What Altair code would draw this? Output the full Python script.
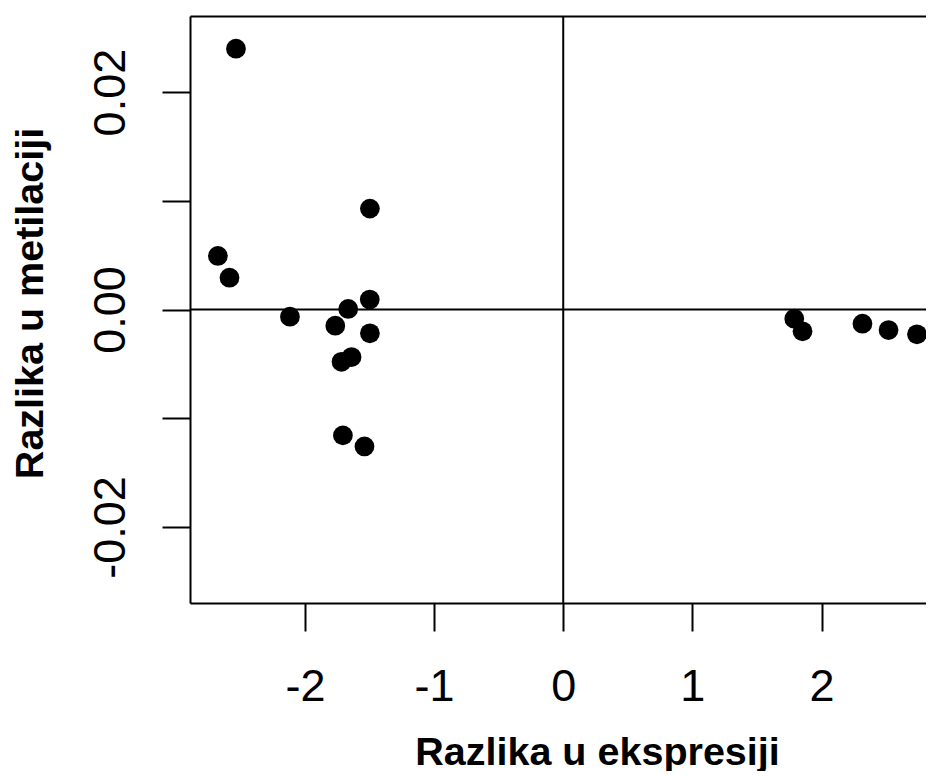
import altair as alt
import pandas as pd

# Data
x_vals = [-2.534, -1.497, -2.674, -2.584, -1.498, -1.665, -2.116, -1.765, -1.497,
          -1.639, -1.717, -1.706, -1.539, 1.789, 1.853, 2.317, 2.519, 2.739]
y_vals = [0.02399, 0.00928, 0.00493, 0.00293, 0.00092, 0.00005, -0.00066, -0.00149,
          -0.00219, -0.00437, -0.00481, -0.01158, -0.01260, -0.00085, -0.00201,
          -0.00131, -0.00189, -0.00228]
x_ticks = [-2, -1, 0, 1, 2]
y_ticks = [-0.02, -0.01, 0.0, 0.01, 0.02]
zero = [0]
x_title = "Razlika u ekspresiji"
y_title = "Razlika u metilaciji"
x_domain = [-2.89, 2.809]
y_domain = [-0.027, 0.027]

df = pd.DataFrame({"x": x_vals, "y": y_vals})
zdf = pd.DataFrame({"v": zero})

FONT = "Liberation Sans"
xs = alt.Scale(domain=x_domain, nice=False, zero=False)
ys = alt.Scale(domain=y_domain, nice=False, zero=False)

x_axis = alt.Axis(
    orient="bottom", values=x_ticks, grid=False,
    labelExpr="datum.value < 0 ? '-' + format(-datum.value, 'd') : format(datum.value, 'd')",
    tickSize=28, tickWidth=2, tickColor="black",
    domainColor="black", domainWidth=2,
    labelFont=FONT, labelFontSize=45, labelColor="black",
    labelPadding=69, labelBaseline="alphabetic", labelAlign="center",
    labelFlush=False, labelOverlap=False,
    title=x_title, titleFont=FONT, titleFontSize=39.5, titleFontWeight="bold",
    titleColor="black", titleX=407, titleY=161, titleBaseline="alphabetic",
    titleAlign="center",
)

y_axis = alt.Axis(
    orient="left", values=y_ticks, grid=False,
    labelExpr="round(abs(datum.value) * 100) % 2 == 0 ? (datum.value < 0 ? '-' + format(-datum.value, '.2f') : format(datum.value, '.2f')) : ''",
    tickSize=28, tickWidth=2, tickColor="black",
    domainColor="black", domainWidth=2,
    labelFont=FONT, labelFontSize=45, labelColor="black",
    labelAngle=270, labelAlign="center", labelBaseline="alphabetic",
    labelPadding=38, labelFlush=False, labelOverlap=False,
    title=y_title, titleFont=FONT, titleFontSize=39.5, titleFontWeight="bold",
    titleColor="black", titleAngle=270, titleAlign="center",
    titleBaseline="alphabetic", titleX=-147.5, titleY=287,
)

top_axis = alt.Axis(
    orient="top", labels=False, ticks=False, grid=False, title=None,
    domain=True, domainColor="black", domainWidth=2,
)

points = alt.Chart(df).mark_circle(size=390, color="black", opacity=1).encode(
    x=alt.X("x:Q", scale=xs, axis=x_axis),
    y=alt.Y("y:Q", scale=ys, axis=y_axis),
)

hline = alt.Chart(zdf).mark_rule(color="black", strokeWidth=2).encode(
    y=alt.Y("v:Q", scale=ys, axis=None),
)

vline = alt.Chart(zdf).mark_rule(color="black", strokeWidth=2).encode(
    x=alt.X("v:Q", scale=xs, axis=top_axis),
)

chart = (
    alt.layer(points, hline, vline)
    .resolve_axis(x="independent", y="independent")
    .properties(
        width=736,
        height=587,
        autosize=alt.AutoSizeParams(type="none"),
        padding={"left": 182, "top": 8, "right": 0, "bottom": 168},
        background="white",
    )
    .configure_view(stroke=None)
)

chart.save("out.html", embed_options={"renderer": "svg", "actions": False})
